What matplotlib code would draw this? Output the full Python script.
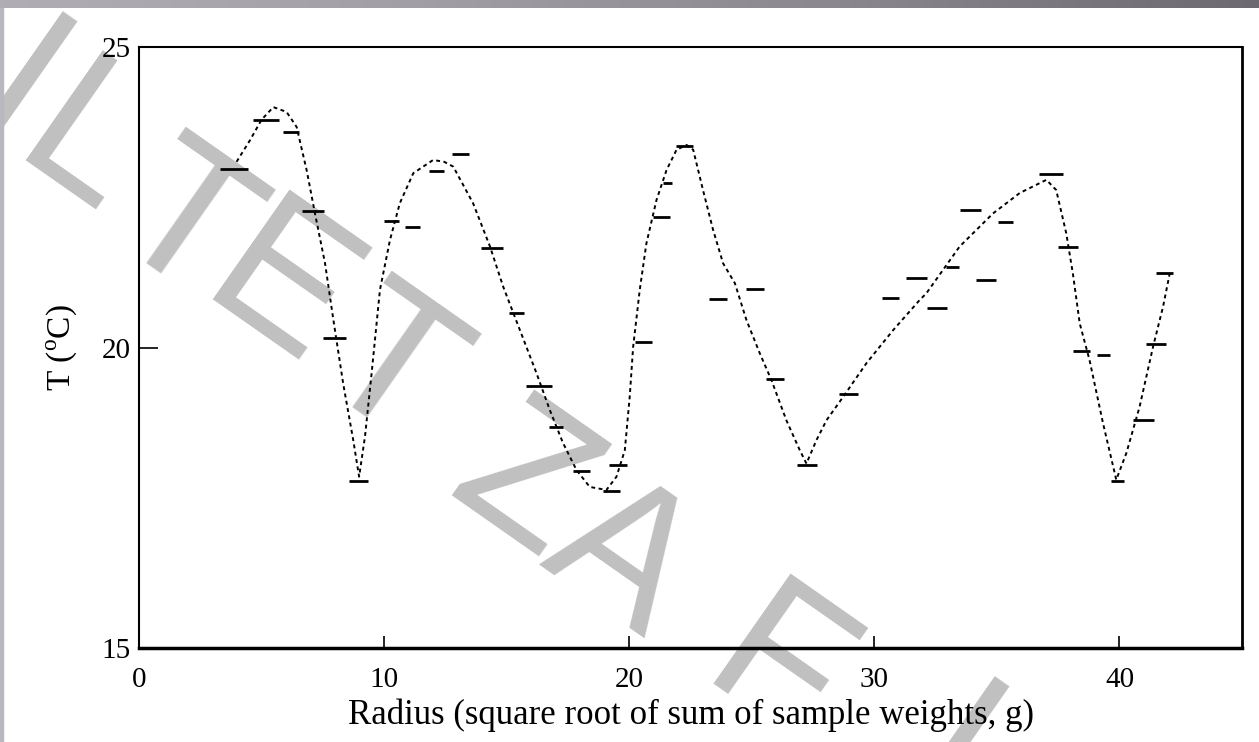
import numpy as np
import matplotlib
matplotlib.use("Agg")
import matplotlib.pyplot as plt
from matplotlib.patches import Rectangle
from matplotlib.colors import LinearSegmentedColormap

plt.rcParams['font.family'] = ['Liberation Serif', 'DejaVu Serif']
plt.rcParams['mathtext.fontset'] = 'custom'
plt.rcParams['mathtext.rm'] = 'Liberation Serif'

# measured samples: centre radius, temperature, width of the bar
radius = [3.87, 5.18, 6.20, 7.10, 7.97, 8.95, 10.30, 11.15, 12.13, 13.11,
          14.40, 15.40, 16.31, 17.01, 18.05, 19.27, 19.53, 20.58, 21.31, 21.55,
          22.25, 23.61, 25.12, 25.94, 27.24, 28.94, 30.65, 31.71, 32.54, 33.18,
          33.91, 34.54, 35.34, 37.19, 37.89, 38.44, 39.33, 39.91, 40.97, 41.48,
          41.84]
temp = [22.97, 23.79, 23.59, 22.27, 20.16, 17.78, 22.10, 22.00, 22.94, 23.22,
        21.66, 20.58, 19.36, 18.68, 17.95, 17.61, 18.04, 20.09, 22.17, 22.74,
        23.35, 20.81, 20.97, 19.48, 18.04, 19.23, 20.82, 21.16, 20.66, 21.34,
        22.29, 21.12, 22.09, 22.89, 21.67, 19.94, 19.88, 17.78, 18.79, 20.06,
        21.24]
width = [1.14, 1.06, 0.65, 0.90, 0.94, 0.77, 0.61, 0.61, 0.61, 0.69,
         0.90, 0.61, 1.06, 0.57, 0.69, 0.69, 0.73, 0.69, 0.69, 0.37,
         0.69, 0.73, 0.73, 0.73, 0.82, 0.77, 0.69, 0.86, 0.82, 0.53,
         0.86, 0.82, 0.61, 0.98, 0.82, 0.69, 0.53, 0.53, 0.86, 0.82,
         0.73]

# fitted curve
curve_x = [3.98, 4.53, 5.00, 5.48, 6.02, 6.43, 6.84, 7.18, 7.59, 7.93, 8.33,
           8.74, 8.98, 9.22, 9.49, 9.83, 10.24, 10.64, 11.19, 12.00, 12.45,
           12.82, 13.63, 14.32, 14.86, 15.54, 16.22, 16.76, 17.30, 17.85,
           18.39, 19.07, 19.48, 19.82, 20.02, 20.16, 20.43, 20.70, 21.11,
           21.52, 21.93, 22.34, 22.61, 23.01, 23.42, 23.83, 24.31, 24.78,
           25.33, 25.80, 26.41, 26.96, 27.23, 27.64, 28.05, 28.73, 29.68,
           30.77, 31.85, 32.12, 33.48, 34.84, 35.93, 37.02, 37.42, 37.83,
           38.10, 38.38, 38.78, 39.33, 39.87, 40.28, 40.82, 41.37, 41.78,
           42.05]
curve_y = [23.09, 23.45, 23.79, 24.00, 23.92, 23.67, 22.95, 22.23, 21.40,
           20.46, 19.40, 18.46, 17.85, 18.52, 19.57, 20.96, 21.79, 22.40,
           22.90, 23.12, 23.09, 23.01, 22.40, 21.68, 21.01, 20.29, 19.57,
           18.96, 18.41, 17.96, 17.68, 17.63, 17.85, 18.29, 19.18, 20.01,
           20.96, 21.73, 22.45, 22.95, 23.29, 23.37, 23.29, 22.62, 21.96,
           21.40, 21.07, 20.46, 19.90, 19.46, 18.79, 18.29, 18.07, 18.46,
           18.79, 19.18, 19.74, 20.29, 20.79, 20.90, 21.68, 22.23, 22.57,
           22.79, 22.62, 21.90, 21.23, 20.40, 19.79, 18.74, 17.80, 18.24,
           19.01, 20.01, 20.68, 21.23]

xticks = [0, 10, 20, 30, 40]
yticks = [15, 20, 25]

# watermark letters and where they sit (figure pixels from top-left)
wm_letters = ['I', 'L', 'T', 'E', 'T', 'Z', 'A', 'F', 'I']
wm_pos = [(18, 95), (82, 150), (182, 228), (278, 295), (388, 372),
          (522, 488), (620, 560), (775, 675), (950, 760)]

W, H = 1259, 742
fig = plt.figure(figsize=(W / 100, H / 100), dpi=100, facecolor='white')
ax = fig.add_axes([139 / W, 1 - 648 / H, (1242 - 139) / W, (648 - 47) / H])
ax.patch.set_alpha(0)

ax.plot(curve_x, curve_y, color='black', lw=1.4, ls=(0, (2.0, 1.8)))
ax.errorbar(radius, temp, xerr=np.array(width) / 2, fmt='none',
            ecolor='black', elinewidth=2.0, capsize=0)

ax.set_xlim(0, 45)
ax.set_ylim(15, 25)
ax.set_xticks(xticks)
ax.set_yticks(yticks)
ax.tick_params(axis='x', direction='in', length=9, width=1.2, pad=14,
               labelsize=21, top=False)
ax.tick_params(axis='y', direction='in', length=14, width=1.2, pad=6,
               labelsize=21, right=False)
for s in ax.spines.values():
    s.set_linewidth(1.5)
ax.spines['bottom'].set_linewidth(2.5)
ax.spines['right'].set_linewidth(2.0)

ax.set_xlabel('Radius (square root of sum of sample weights, g)',
              fontsize=25, labelpad=4)
ax.set_ylabel(r'T ($^{\rm o}$C)', fontsize=24, labelpad=16)

# watermark behind the data
for ch, (px, py) in zip(wm_letters, wm_pos):
    fig.text(px / W, 1 - py / H, ch, ha='center', va='center',
             fontsize=140, color='#c0c0c0', rotation=-35,
             rotation_mode='anchor', family='Liberation Sans', zorder=-5)

# grey top band and left border
band = fig.add_axes([0, 1 - 8 / H, 1, 8 / H])
cmap = LinearSegmentedColormap.from_list(
    'band', ['#b0aeb4', '#a19fa5', '#8a888e', '#6c6a70'])
band.imshow(np.linspace(0, 1, 256)[None, :], aspect='auto', cmap=cmap)
band.axis('off')
fig.patches.append(Rectangle((0, 0), 3 / W, 1, transform=fig.transFigure,
                             color='#b8b8be', zorder=-4))

fig.savefig('out.png', dpi=100)
